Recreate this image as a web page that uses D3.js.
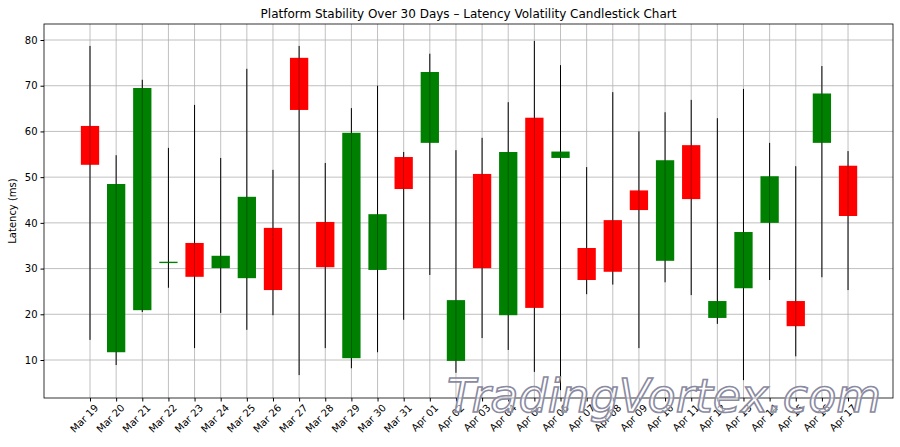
<!DOCTYPE html>
<html><head><meta charset="utf-8">
<script src="https://cdn.jsdelivr.net/npm/d3@7"></script>
<style>body{margin:0;background:#fff}text{font-family:"DejaVu Sans",sans-serif}</style>
</head><body><svg id="c" width="900" height="447"></svg>
<script>
const dates = ["Mar 19","Mar 20","Mar 21","Mar 22","Mar 23","Mar 24","Mar 25","Mar 26","Mar 27","Mar 28","Mar 29","Mar 30","Mar 31","Apr 01","Apr 02","Apr 03","Apr 04","Apr 05","Apr 06","Apr 07","Apr 08","Apr 09","Apr 10","Apr 11","Apr 12","Apr 13","Apr 14","Apr 15","Apr 16","Apr 17"];
const open  = [61.2,11.7,20.9,31.2,35.6,30.1,27.9,38.9,76.1,40.2,10.4,29.7,54.4,57.5,9.8,50.7,19.8,63.0,54.2,34.5,40.6,47.1,31.7,57.0,19.2,25.7,40.0,22.9,57.5,52.5];
const close = [52.7,48.5,69.5,31.5,28.2,32.8,45.7,25.3,64.7,30.3,59.7,41.9,47.4,73.0,23.1,30.1,55.5,21.4,55.6,27.5,29.3,42.8,53.7,45.2,22.9,38.0,50.2,17.4,68.3,41.5];
const high  = [78.7,54.8,71.3,56.4,65.8,54.2,73.7,51.6,78.7,53.1,65.1,70.0,55.5,77.0,55.9,58.6,66.4,79.8,74.5,52.2,68.6,60.0,64.2,66.9,62.9,69.3,57.5,52.4,74.3,55.7];
const low   = [14.4,8.9,20.5,25.8,12.6,20.3,16.6,19.8,6.7,12.6,8.2,11.7,18.8,28.6,7.2,14.8,12.2,7.4,3.4,24.4,26.5,12.6,27.0,24.2,17.9,5.6,27.5,10.8,28.1,25.3];
const yTicks = [10,20,30,40,50,60,70,80];

const svg = d3.select("#c");
const L = 44, R = 893, T = 24, B = 398;
const x = d3.scaleLinear().domain([-1.76, 30.72]).range([L, R]);
const y = d3.scaleLinear().domain([1.69, 83.5]).range([B, T]);
const w = x(0.35) - x(0);

// grid
svg.append("g").selectAll("line").data(dates).join("line")
  .attr("x1", (d,i) => x(i)).attr("x2", (d,i) => x(i)).attr("y1", T).attr("y2", B)
  .attr("stroke", "#b0b0b0").attr("stroke-width", 0.8);
svg.append("g").selectAll("line").data(yTicks).join("line")
  .attr("x1", L).attr("x2", R).attr("y1", d => y(d)).attr("y2", d => y(d))
  .attr("stroke", "#b0b0b0").attr("stroke-width", 0.8);

// candles
const c = svg.append("g").selectAll("g").data(dates).join("g");
c.append("line").attr("x1", (d,i) => x(i)).attr("x2", (d,i) => x(i))
  .attr("y1", (d,i) => y(high[i])).attr("y2", (d,i) => y(low[i]))
  .attr("stroke", "#000").attr("stroke-width", 1);
c.append("rect")
  .attr("x", (d,i) => x(i) - w).attr("width", 2 * w)
  .attr("y", (d,i) => y(Math.max(open[i], close[i])))
  .attr("height", (d,i) => Math.max(1, Math.abs(y(open[i]) - y(close[i]))))
  .attr("fill", (d,i) => close[i] >= open[i] ? "green" : "red");
c.append("line").attr("x1", (d,i) => x(i)).attr("x2", (d,i) => x(i))
  .attr("y1", (d,i) => y(Math.max(open[i], close[i]))).attr("y2", (d,i) => y(Math.min(open[i], close[i])))
  .attr("stroke", "#000").attr("stroke-width", 0.6).attr("opacity", 0.5);

// frame
svg.append("rect").attr("x", L).attr("y", T).attr("width", R - L).attr("height", B - T)
  .attr("fill", "none").attr("stroke", "#000").attr("stroke-width", 0.8);

// axes
const ya = svg.append("g").attr("transform", `translate(${L},0)`)
  .call(d3.axisLeft(y).tickValues(yTicks).tickSize(3.5).tickPadding(3));
ya.select(".domain").remove();
ya.selectAll("text").attr("font-size", 10).attr("fill", "#000");
const xa = svg.append("g").attr("transform", `translate(0,${B})`)
  .call(d3.axisBottom(x).tickValues(d3.range(dates.length)).tickFormat(i => dates[i]).tickSize(3.5));
xa.select(".domain").remove();
xa.selectAll("text").attr("font-size", 10).attr("fill", "#000")
  .attr("text-anchor", "end").attr("dy", 0)
  .attr("transform", "translate(4,6) rotate(-45)");

svg.append("text").attr("x", (L + R) / 2).attr("y", 18).attr("text-anchor", "middle")
  .attr("font-size", 12).text("Platform Stability Over 30 Days – Latency Volatility Candlestick Chart");
svg.append("text").attr("transform", `translate(16,${(T + B) / 2}) rotate(-90)`)
  .attr("text-anchor", "middle").attr("font-size", 10).text("Latency (ms)");

// watermark
svg.append("text").attr("x", 664).attr("y", 412).attr("text-anchor", "middle")
  .attr("font-size", 46).attr("font-style", "italic").attr("font-family", "DejaVu Serif, serif")
  .attr("fill", "rgba(255,255,255,0.55)").attr("stroke", "#8a8aa0").attr("stroke-width", 1.6)
  .text("TradingVortex.com");
</script></body></html>
